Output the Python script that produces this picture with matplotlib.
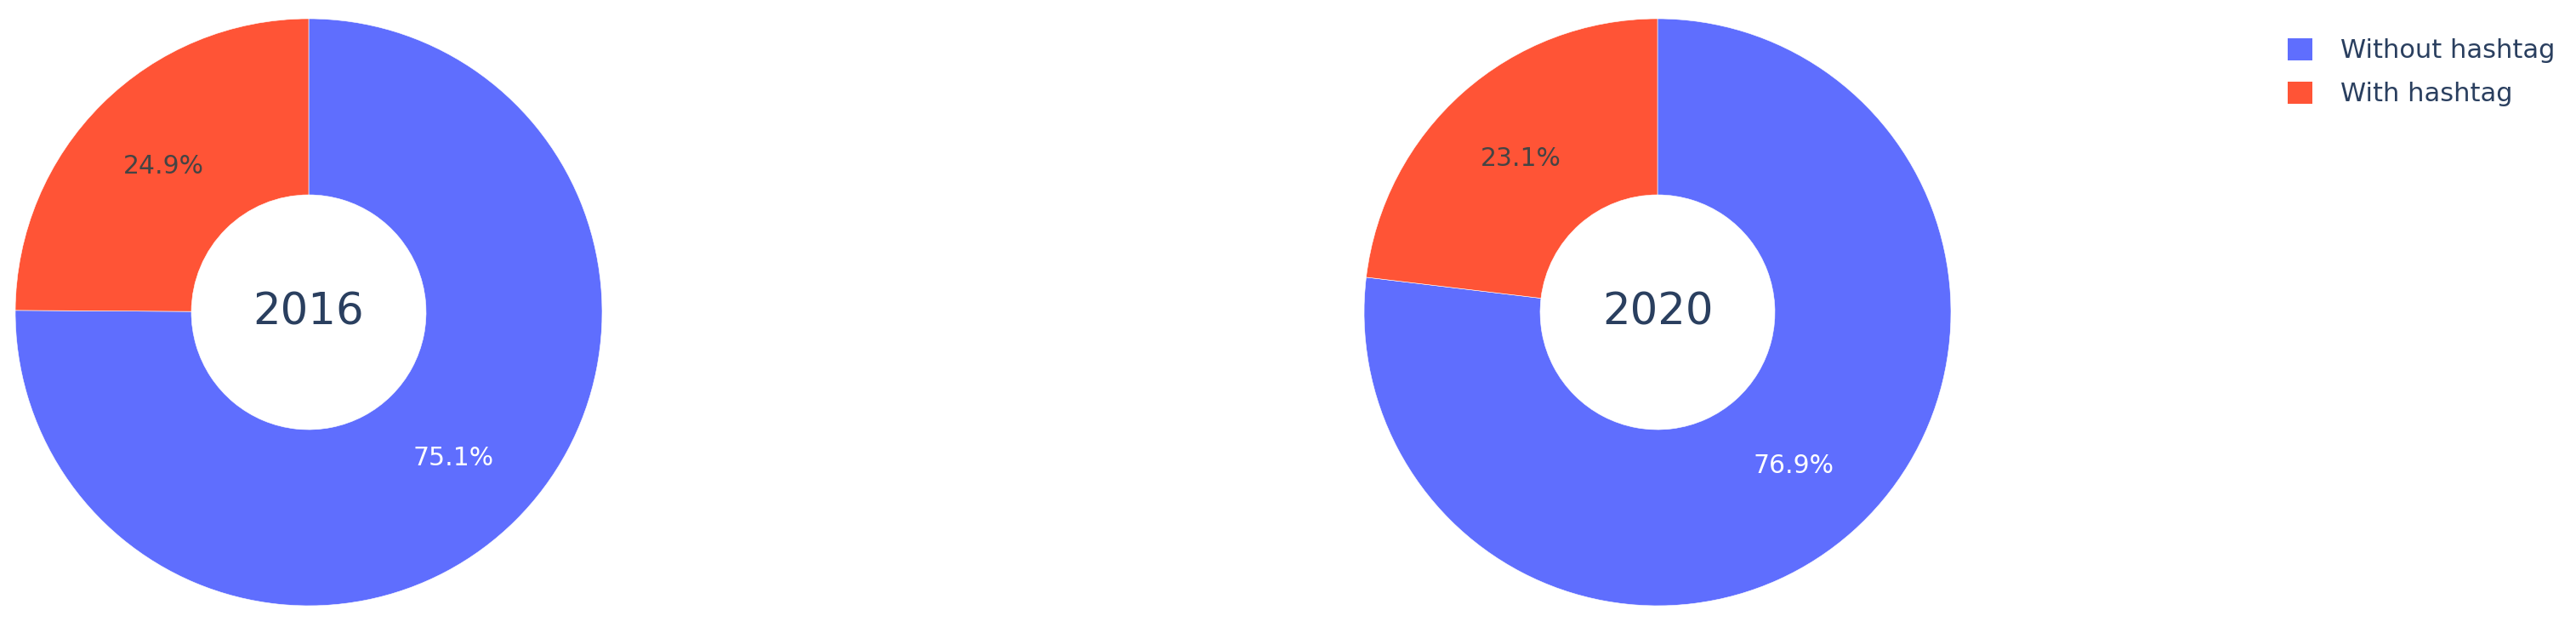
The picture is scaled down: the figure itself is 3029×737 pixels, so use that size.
import matplotlib.pyplot as plt
from matplotlib.patches import Patch

years = ['2016', '2020']
labels = ['Without hashtag', 'With hashtag']
without_hashtag = [75.1, 76.9]
with_hashtag = [24.9, 23.1]
colors = ['#5F6EFE', '#FF5436']

W, H = 3029, 737
fig = plt.figure(figsize=(W / 100, H / 100), dpi=100)

centers_x = [363, 1949]
center_y = 367
radius_px = 345

for i, year in enumerate(years):
    cx = centers_x[i]
    ax = fig.add_axes([(cx - radius_px) / W, (H - center_y - radius_px) / H,
                       2 * radius_px / W, 2 * radius_px / H])
    values = [without_hashtag[i], with_hashtag[i]]
    wedges, texts, autotexts = ax.pie(
        values, colors=colors, startangle=90, counterclock=False,
        autopct='%.1f%%', pctdistance=0.7, radius=1,
        wedgeprops=dict(width=0.6, edgecolor='white', linewidth=0.4),
        textprops=dict(fontsize=21.5, family='DejaVu Sans'))
    autotexts[0].set_color('white')
    autotexts[1].set_color('#444444')
    ax.text(0, 0, year, ha='center', va='center', fontsize=37, color='#2a3f5f')
    ax.set_xlim(-1, 1)
    ax.set_ylim(-1, 1)
    ax.axis('off')

handles = [Patch(facecolor=c, edgecolor='none') for c in colors]
fig.legend(handles, labels, loc='upper left', bbox_to_anchor=(2662 / W, 1 - 17 / H),
           frameon=False, fontsize=22, labelcolor='#2a3f5f',
           handlelength=0.95, handleheight=0.95, handletextpad=1.1, labelspacing=0.7)

plt.savefig('out.png', dpi=100)
plt.close()
